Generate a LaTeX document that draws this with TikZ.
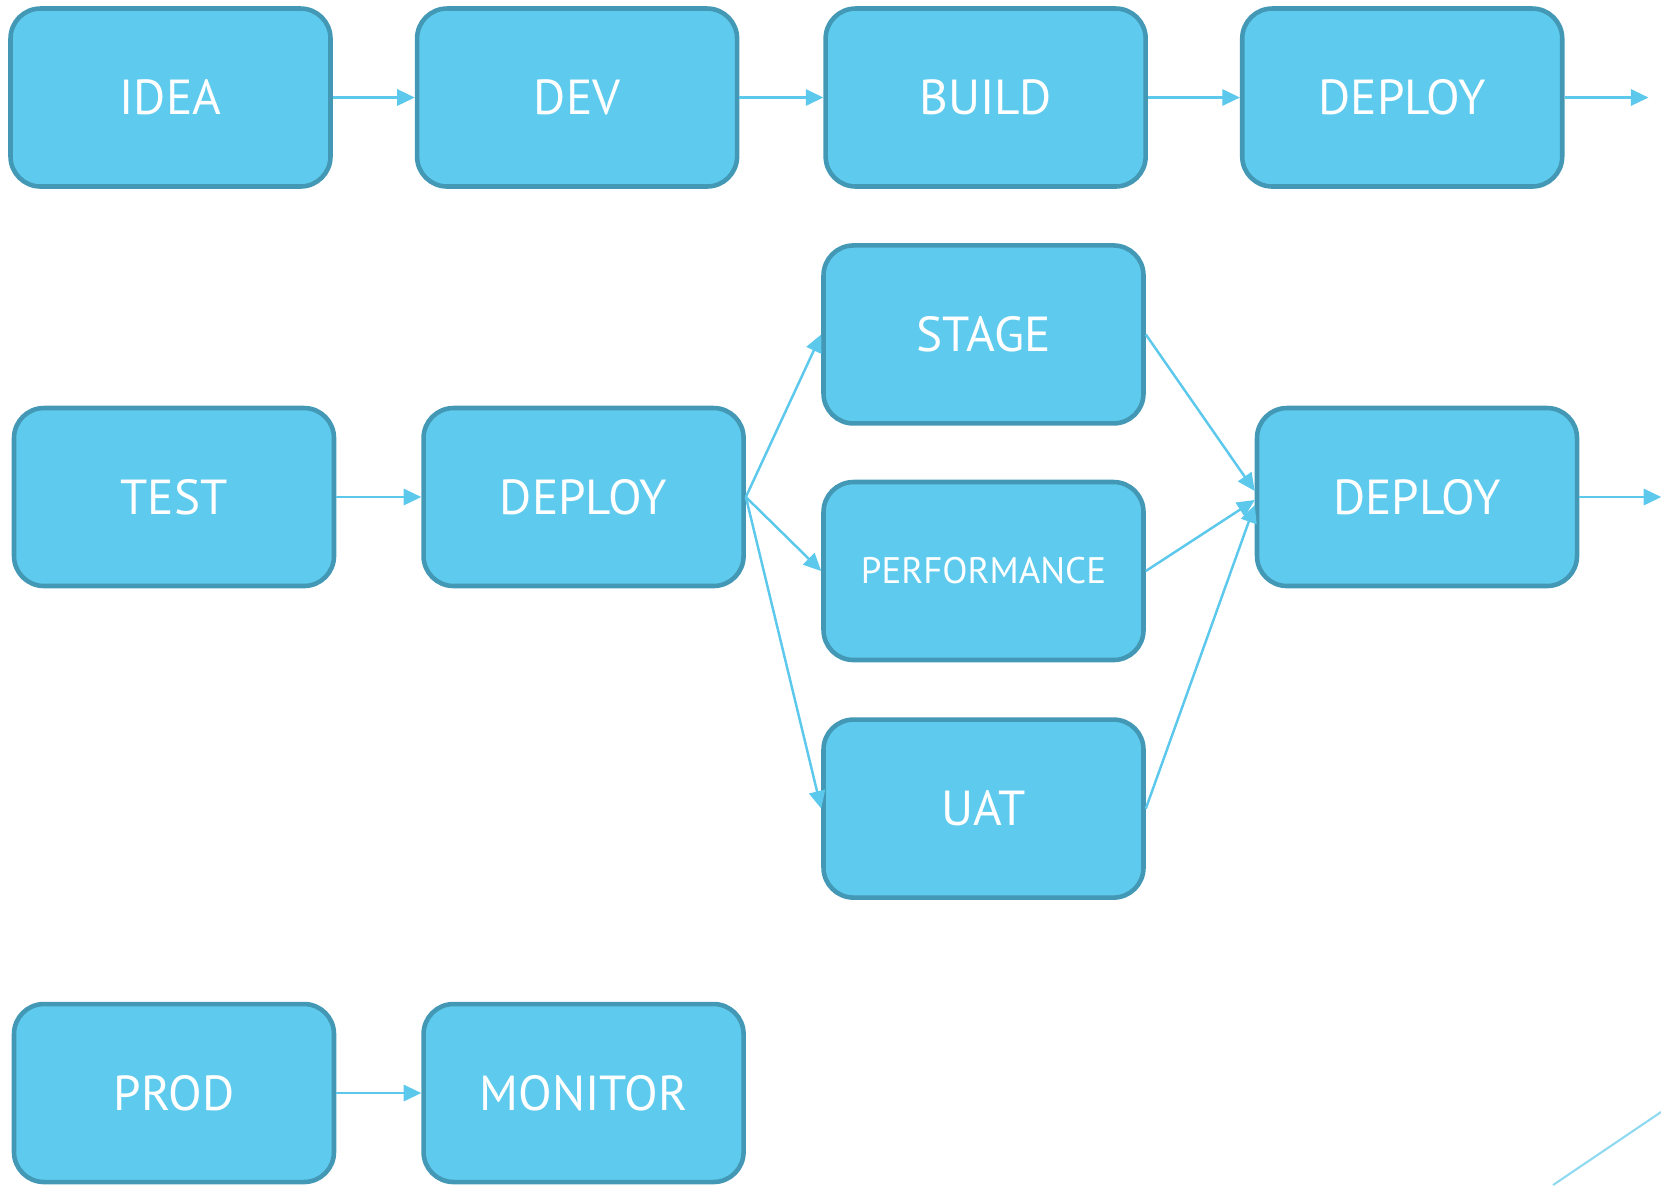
\documentclass[tikz,border=0pt]{standalone}
\usepackage{fontspec}
\setmainfont{PT Sans}
\usepackage{tikz}
\usetikzlibrary{arrows.meta,positioning}

\definecolor{boxfill}{HTML}{5ECBEE}
\definecolor{boxline}{HTML}{4399B5}
\definecolor{flowline}{HTML}{5BC8EC}
\definecolor{decoline}{HTML}{8FD9F1}

\begin{document}
\begin{tikzpicture}[>={Triangle[length=5pt,width=4.6pt]},node distance=0.84cm,
	stage/.style={draw=boxline,line width=1.3pt,fill=boxfill,rounded corners=0.3cm,
		minimum width=3.2cm,minimum height=1.78cm,text=white,font=\fontsize{14}{17}\selectfont},
	flow/.style={->,color=flowline,line width=0.7pt}]
	\useasboundingbox (0,0) rectangle (16.61,-11.85);
	% first row
	\node[stage] (idea) at (1.705,-0.975) {IDEA};
	\node[stage] [right=0.82cm of idea] (dev) {DEV};
	\node[stage] [right=of dev] (build) {BUILD};
	\node[stage] [right=0.92cm of build] (deploy_a) {DEPLOY};
	\coordinate (out_a) at ([xshift=0.84cm]deploy_a.east);
	% second row
	\node[stage] (test) at (1.74,-4.97) {TEST};
	\node[stage] [right=0.85cm of test] (deploy_b) {DEPLOY};
	\node[stage,font=\fontsize{10.5}{12}\selectfont] (perf) at (9.835,-5.71) {PERFORMANCE};
	\node[stage] [above=0.54cm of perf] (stage_env) {STAGE};
	\node[stage] [below=0.55cm of perf] (uat) {UAT};
	\node[stage] (deploy_c) at (14.17,-4.97) {DEPLOY};
	\coordinate (out_c) at ([xshift=0.82cm]deploy_c.east);
	% third row
	\node[stage] (prod) at (1.74,-10.93) {PROD};
	\node[stage] [right=0.85cm of prod] (monitor) {MONITOR};
	\coordinate (deco_a) at (15.53,-11.85);
	\coordinate (deco_b) at (16.61,-11.12);

	\path[flow]
		(idea) edge (dev)
		(dev) edge (build)
		(build) edge (deploy_a)
		(deploy_a.east) edge (out_a)
		(test) edge (deploy_b)
		(deploy_b.east) edge (stage_env.west)
		(deploy_b.east) edge (perf.west)
		(deploy_b.east) edge (uat.west)
		(stage_env.east) edge ([yshift=0.06cm]deploy_c.west)
		(perf.east) edge ([yshift=-0.03cm]deploy_c.west)
		(uat.east) edge ([yshift=-0.08cm]deploy_c.west)
		(deploy_c.east) edge (out_c)
		(prod) edge (monitor);
	\draw[decoline,line width=0.6pt] (deco_a) -- (deco_b);
\end{tikzpicture}
\end{document}
